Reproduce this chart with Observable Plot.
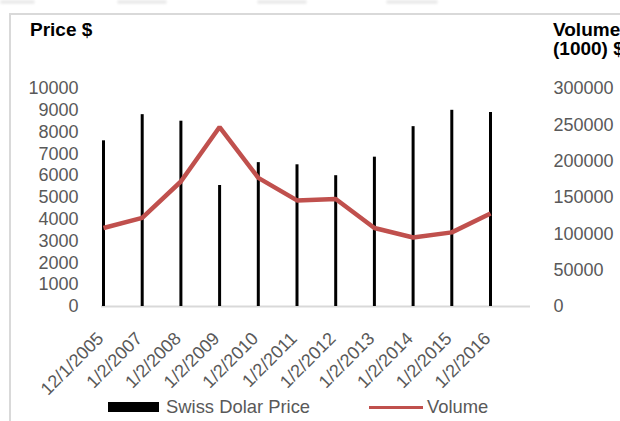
<!DOCTYPE html>
<html>
<head>
<meta charset="utf-8">
<script src="https://cdn.jsdelivr.net/npm/d3@7"></script>
<script src="https://cdn.jsdelivr.net/npm/@observablehq/plot@0.6"></script>
<style>
  html, body { margin: 0; padding: 0; background: #fff; }
  #wrap { position: relative; width: 620px; height: 421px; overflow: hidden; font-family: "Liberation Sans", Arial, sans-serif; }
  .frame-l { position: absolute; left: 9px; top: 13px; width: 2px; height: 420px; background: #d9d9d9; }
  .frame-t { position: absolute; left: 9px; top: 13px; width: 620px; height: 2px; background: #d9d9d9; }
  .blob { position: absolute; top: 0; height: 4px; background: #ececec; border-radius: 2px; filter: blur(1px); }
  .title { position: absolute; font-weight: bold; font-size: 19px; color: #000; line-height: 19px; white-space: nowrap; }
  .legend { position: absolute; top: 396px; font-size: 18.4px; color: #595959; white-space: nowrap; }
  #chart { position: absolute; left: 0; top: 0; }
</style>
</head>
<body>
<div id="wrap">
  <div class="blob" style="left:0;width:35px"></div>
  <div class="blob" style="left:117px;width:50px"></div>
  <div class="blob" style="left:257px;width:50px"></div>
  <div class="blob" style="left:386px;width:52px"></div>
  <div class="frame-l"></div>
  <div class="frame-t"></div>
  <div id="chart"></div>
  <div class="title" style="left:30px;top:20px">Price $</div>
  <div class="title" style="left:553px;top:20px">Volume<br>(1000) $</div>
  <div class="legend" style="left:108px">
    <span style="display:inline-block;width:51px;height:10px;background:#000;vertical-align:middle;margin-right:7px;position:relative;top:-1px"></span>Swiss Dolar Price
  </div>
  <div class="legend" style="left:369px">
    <span style="display:inline-block;width:54px;height:3px;background:#C0504D;vertical-align:middle;margin-right:4px;position:relative;top:-1px"></span>Volume
  </div>
</div>
<script>
const dates = ["12/1/2005","1/2/2007","1/2/2008","1/2/2009","1/2/2010","1/2/2011","1/2/2012","1/2/2013","1/2/2014","1/2/2015","1/2/2016"];
const price = [7600, 8800, 8500, 5550, 6600, 6500, 6000, 6850, 8250, 9000, 8900];
const volume = [108000, 122000, 172000, 247000, 177000, 146000, 148000, 108000, 95000, 102000, 128000];
const priceTicks = [0,1000,2000,3000,4000,5000,6000,7000,8000,9000,10000];
const volumeTicks = [0,50000,100000,150000,200000,250000,300000];
const ratio = 300000 / 10000;

const rows = dates.map((d, i) => ({date: d, price: price[i], volume: volume[i]}));

const chart = Plot.plot({
  width: 620,
  height: 421,
  marginTop: 88,
  marginBottom: 115,
  marginLeft: 101,
  marginRight: 90,
  style: {fontFamily: "'Liberation Sans', Arial, sans-serif", fontSize: "18px", color: "#595959", background: "transparent"},
  x: {type: "point", domain: dates, range: [103, 490], padding: 0, round: false},
  y: {domain: [0, 10000]},
  marks: [
    Plot.ruleY([0], {stroke: "#d9d9d9", strokeWidth: 2}),
    Plot.ruleX(rows, {x: "date", y1: 0, y2: "price", stroke: "#000", strokeWidth: 3}),
    Plot.line(rows, {x: "date", y: d => d.volume / ratio, stroke: "#C0504D", strokeWidth: 4.5, strokeLinejoin: "miter", strokeLinecap: "butt"}),
    Plot.axisY(priceTicks, {anchor: "left", tickSize: 0, tickPadding: 23, tickFormat: d => String(d), fill: "#595959", fontSize: 18, label: null}),
    Plot.text(volumeTicks, {y: d => d / ratio, text: d => String(d), frameAnchor: "right", dx: 23, textAnchor: "start", fill: "#595959", fontSize: 18}),
    Plot.axisX({tickSize: 0, tickPadding: 29, dx: -3, tickRotate: -45, fill: "#595959", fontSize: 18, label: null})
  ]
});
document.getElementById("chart").appendChild(chart);
</script>
</body>
</html>
